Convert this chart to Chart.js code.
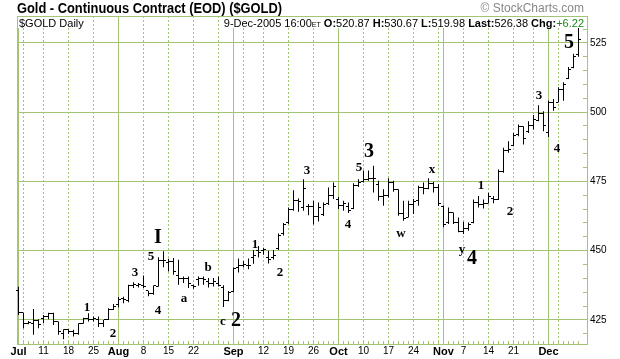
<!DOCTYPE html>
<html>
<head>
<meta charset="utf-8">
<title>Gold - Continuous Contract (EOD) ($GOLD)</title>
<script src="https://cdn.jsdelivr.net/npm/chart.js@4.4.1/dist/chart.umd.min.js"></script>
<style>
  html, body { margin: 0; padding: 0; background: #fff; }
  #box { width: 620px; height: 359px; }
</style>
</head>
<body>
<div id="box"><canvas id="goldChart" width="620" height="359"></canvas></div>
<script>
// $GOLD daily bars, 1-Jul-2005 .. 9-Dec-2005, one value per trading day
const opens = [
  435.5, 427.6, 423.8, 423.8, 424.8, 425.6, 426.2, 427.4, 424.4, 420.2,
  421.4, 420.8, 420.2, 423.8, 425.6, 425.0, 425.0, 423.8, 425.2, 428.6,
  430.4, 432.6, 432.0, 437.3, 437.4, 437.5, 435.5, 434.7, 437.0, 446.5,
  445.8, 446.1, 441.0, 440.0, 440.1, 437.4, 439.5, 440.1, 438.9, 438.3,
  438.3, 436.8, 432.0, 435.4, 443.9, 444.5, 444.5, 447.6, 450.0, 450.0,
  447.5, 447.5, 450.6, 456.1, 460.0, 465.0, 468.0, 465.5, 465.8, 466.0,
  462.4, 463.0, 467.0, 470.0, 468.6, 466.4, 466.0, 465.2, 473.6, 475.0,
  475.6, 476.2, 474.0, 469.4, 470.0, 474.6, 472.0, 463.4, 462.0, 466.6,
  468.0, 472.8, 472.6, 474.4, 472.8, 466.1, 460.0, 463.8, 460.2, 457.0,
  458.0, 460.0, 467.5, 466.5, 467.0, 469.0, 468.3, 478.5, 486.0, 488.0,
  492.0, 494.8, 493.0, 495.0, 497.0, 499.5, 492.5, 503.5, 503.5, 508.0,
  512.0, 516.0, 520.87
];
const highs = [
  437.0, 427.6, 424.6, 428.9, 425.2, 426.8, 427.6, 427.6, 424.4, 421.6,
  421.6, 421.4, 423.8, 425.8, 427.4, 426.2, 426.2, 425.0, 429.2, 430.7,
  433.3, 433.4, 437.7, 438.6, 438.3, 441.0, 435.5, 437.4, 447.6, 449.8,
  447.1, 447.3, 446.7, 440.7, 440.7, 437.7, 440.7, 440.7, 440.1, 440.1,
  440.7, 437.5, 435.4, 443.9, 447.2, 446.3, 447.2, 450.2, 451.7, 451.0,
  450.0, 450.2, 456.2, 460.0, 465.6, 471.8, 468.8, 475.8, 466.8, 468.0,
  467.4, 467.4, 472.8, 474.6, 469.4, 468.0, 467.4, 474.3, 475.8, 478.9,
  478.9, 480.6, 475.2, 472.2, 476.1, 475.2, 472.2, 468.0, 468.0, 468.6,
  473.4, 474.6, 476.1, 474.9, 474.0, 466.3, 465.6, 463.8, 462.0, 460.4,
  460.2, 468.5, 469.7, 468.5, 470.9, 469.7, 479.3, 487.1, 489.5, 492.5,
  495.5, 494.9, 496.7, 499.0, 502.5, 500.3, 504.2, 504.7, 509.0, 510.8,
  516.3, 521.1, 530.67
];
const lows = [
  426.8, 422.0, 423.4, 419.6, 422.0, 423.8, 425.2, 423.2, 419.6, 418.0,
  419.9, 419.0, 419.6, 423.6, 424.4, 424.4, 422.4, 422.4, 425.0, 428.6,
  429.5, 431.0, 431.4, 436.5, 436.7, 436.5, 433.5, 434.1, 437.0, 444.0,
  442.5, 441.3, 437.7, 438.3, 436.5, 436.2, 437.3, 437.7, 436.7, 437.1,
  437.1, 429.7, 431.7, 435.0, 442.1, 443.9, 443.3, 445.3, 447.5, 448.5,
  445.4, 446.8, 450.2, 455.5, 459.6, 464.4, 464.0, 464.4, 462.8, 459.4,
  460.5, 462.5, 466.5, 468.6, 465.0, 464.4, 463.6, 465.0, 473.0, 474.6,
  475.2, 471.0, 468.0, 466.2, 469.2, 471.3, 462.6, 460.8, 462.0, 463.2,
  466.2, 470.4, 472.2, 471.0, 466.1, 458.4, 459.6, 459.6, 456.6, 456.0,
  457.2, 459.9, 465.6, 465.2, 467.0, 467.1, 468.3, 478.1, 485.3, 487.7,
  491.3, 488.3, 492.5, 493.7, 496.7, 493.1, 491.0, 500.5, 503.5, 504.1,
  512.0, 515.8, 519.98
];
const closes = [
  427.6, 423.8, 424.0, 424.8, 423.2, 426.2, 427.4, 424.4, 420.8, 421.4,
  420.8, 420.2, 423.6, 425.6, 425.0, 425.6, 423.8, 425.0, 428.6, 429.8,
  432.2, 432.2, 437.3, 437.7, 437.7, 437.2, 434.7, 437.3, 446.5, 446.6,
  446.1, 442.5, 440.1, 440.0, 438.0, 437.0, 440.1, 439.5, 438.3, 438.9,
  437.5, 432.0, 435.0, 443.5, 444.5, 445.1, 444.5, 448.2, 449.4, 450.4,
  446.9, 448.2, 455.5, 459.4, 465.0, 468.0, 467.8, 472.5, 466.0, 462.4,
  465.5, 466.5, 470.0, 473.2, 466.4, 467.0, 464.5, 473.6, 474.6, 475.6,
  476.2, 476.0, 469.4, 469.8, 474.6, 472.0, 463.4, 461.5, 466.6, 467.8,
  472.8, 472.6, 474.4, 472.8, 467.0, 459.6, 463.8, 460.2, 457.0, 458.0,
  459.6, 467.5, 466.5, 467.0, 469.6, 468.3, 478.5, 486.0, 486.5, 491.5,
  494.8, 490.5, 495.0, 497.5, 499.5, 495.2, 503.5, 501.5, 508.0, 510.0,
  515.5, 520.16, 526.38
];

// x axis: trading-day index of each week / month start, and its label ('' = grid line only)
const tickIndex  = [0, 1, 5, 10, 15, 20, 25, 30, 35, 40, 43, 45, 49, 54, 59, 64, 69, 74, 79, 84, 85, 89, 94, 99, 103, 106, 108];
const tickLabels = ['Jul', '', '11', '18', '25', 'Aug', '8', '15', '22', '', 'Sep', '', '12', '19', '26', 'Oct', '10', '17', '24', '', 'Nov', '7', '14', '21', '', 'Dec', ''];
const priceTicks = [425, 450, 475, 500, 525];

// Elliott wave counts written on the chart
const waveIndex = [13.7, 18.9, 23.3, 26.5, 27.9, 27.9, 33.1, 37.9, 40.9, 43.5, 47.3, 52.3, 57.7, 65.9, 68.1, 70.1, 76.5, 82.7, 88.7, 90.7, 92.5, 98.3, 104.1, 107.7, 110.1];
const wavePrice = [429.6, 420.2, 441.9, 447.7, 454.5, 428.5, 432.8, 444.0, 424.5, 424.5, 452.0, 441.9, 479.0, 459.5, 480.1, 485.5, 456.3, 479.4, 450.2, 446.9, 473.6, 464.2, 506.1, 487.0, 524.9];
const waveText  = ['1', '2', '3', '5', 'I', '4', 'a', 'b', 'c', '2', '1', '2', '3', '4', '5', '3', 'w', 'x', 'y', '4', '1', '2', '3', '4', '5'];
const waveBig   = [0, 0, 0, 0, 1, 0, 0, 0, 0, 1, 0, 0, 0, 0, 0, 1, 0, 0, 0, 1, 0, 0, 0, 0, 1];

const GRID = '#a3c474';
const SANS = '"Liberation Sans", Arial, sans-serif';
const SERIF = '"Liberation Serif", "Times New Roman", serif';
const isMonth = s => /^[A-Z]/.test(s);

// frame + little minor ticks along the bottom and the right axis
const frameTicks = {
  id: 'frameTicks',
  beforeDatasetsDraw(chart) {
    const {ctx, chartArea: a, scales: {x, y}} = chart;
    ctx.save();
    ctx.fillStyle = GRID;
    ctx.fillRect(a.left, a.top, a.right - a.left, 1);
    ctx.fillRect(a.left, a.top, 1, a.bottom - a.top);
    for (let v = 420; v <= 530; v += 5) {
      const py = Math.round(y.getPixelForValue(v) - 0.5);
      ctx.fillRect(a.right - 4, py, 4, 1);
    }
    for (let i = 0; i < closes.length; i++) {
      const px = Math.round(x.getPixelForValue(i) - 0.5);
      ctx.fillRect(px, a.bottom - 3, 1, 3);
    }
    ctx.restore();
  }
};

// open tick on the left, close tick on the right of each high-low bar
const ohlcTicks = {
  id: 'ohlcTicks',
  afterDatasetsDraw(chart) {
    const {ctx, scales: {x, y}} = chart;
    ctx.save();
    ctx.fillStyle = '#000';
    for (let i = 0; i < closes.length; i++) {
      const px = Math.round(x.getPixelForValue(i) - 0.5);
      ctx.fillRect(px - 2, Math.round(y.getPixelForValue(opens[i]) - 0.5), 2, 1);
      ctx.fillRect(px + 1, Math.round(y.getPixelForValue(closes[i]) - 0.5), 2, 1);
    }
    ctx.restore();
  }
};

// wave labels
const waveLabels = {
  id: 'waveLabels',
  afterDatasetsDraw(chart) {
    const {ctx, scales: {x, y}} = chart;
    ctx.save();
    ctx.fillStyle = '#000';
    ctx.textAlign = 'center';
    ctx.textBaseline = 'middle';
    waveText.forEach((t, k) => {
      ctx.font = 'bold ' + (waveBig[k] ? 20 : 13) + 'px ' + SERIF;
      ctx.fillText(t, x.getPixelForValue(waveIndex[k]), y.getPixelForValue(wavePrice[k]));
    });
    ctx.restore();
  }
};

// title line and the quote line inside the top of the plot
const header = {
  id: 'header',
  afterDraw(chart) {
    const {ctx, chartArea: a} = chart;
    const n = closes.length - 1;
    ctx.save();
    ctx.textBaseline = 'alphabetic';
    ctx.textAlign = 'left';

    ctx.fillStyle = '#000';
    ctx.font = 'bold 14px ' + SANS;
    const title = 'Gold - Continuous Contract (EOD) ($GOLD)';
    const tw = ctx.measureText(title).width;
    ctx.save();
    ctx.translate(17, 13);
    ctx.scale(265 / tw, 1);
    ctx.fillText(title, 0, 0);
    ctx.restore();

    ctx.fillStyle = '#888';
    ctx.font = '12px ' + SANS;
    ctx.textAlign = 'right';
    ctx.fillText('\u00a9 StockCharts.com', 584, 12);
    ctx.textAlign = 'left';

    const left = '$GOLD Daily';
    ctx.font = '11px ' + SANS;
    const lw = ctx.measureText(left).width;
    ctx.fillStyle = '#fff';
    ctx.fillRect(a.left + 1, a.top + 1, lw + 4, 11);
    ctx.fillStyle = '#000';
    ctx.fillText(left, a.left + 2, a.top + 11);

    const chg = closes[n] - closes[n - 1];
    const parts = [
      ['9-Dec-2005 16:00', '11px ' + SANS, '#000'],
      ['ET', '7px ' + SANS, '#000'],
      [' O:', 'bold 11px ' + SANS, '#000'],
      [opens[n].toFixed(2), '11px ' + SANS, '#000'],
      [' H:', 'bold 11px ' + SANS, '#000'],
      [highs[n].toFixed(2), '11px ' + SANS, '#000'],
      [' L:', 'bold 11px ' + SANS, '#000'],
      [lows[n].toFixed(2), '11px ' + SANS, '#000'],
      [' Last:', 'bold 11px ' + SANS, '#000'],
      [closes[n].toFixed(2), '11px ' + SANS, '#000'],
      [' Chg:', 'bold 11px ' + SANS, '#000'],
      [(chg >= 0 ? '+' : '') + chg.toFixed(2), '11px ' + SANS, '#1a8a1a']
    ];
    let total = 0;
    parts.forEach(p => { ctx.font = p[1]; total += ctx.measureText(p[0]).width; });
    let px = 584 - total;
    ctx.fillStyle = '#fff';
    ctx.fillRect(px - 2, a.top + 1, total + 3, 11);
    parts.forEach(p => {
      ctx.font = p[1];
      ctx.fillStyle = p[2];
      ctx.fillText(p[0], px, a.top + 11);
      px += ctx.measureText(p[0]).width;
    });
    ctx.restore();
  }
};

new Chart(document.getElementById('goldChart'), {
  type: 'bar',
  data: {
    datasets: [{
      label: '$GOLD',
      data: closes.map((c, i) => ({x: i, y: [lows[i], highs[i]]})),
      backgroundColor: '#000',
      barThickness: 1,
      inflateAmount: 0,
      grouped: false
    }]
  },
  options: {
    responsive: false,
    animation: false,
    devicePixelRatio: 1,
    layout: {padding: {top: 16, left: 17, right: 0, bottom: 0}},
    plugins: {legend: {display: false}, tooltip: {enabled: false}},
    scales: {
      x: {
        type: 'linear',
        offset: false,
        min: -0.3,
        max: 113.7,
        afterBuildTicks: s => { s.ticks = tickIndex.map((v, k) => ({value: v, major: isMonth(tickLabels[k])})); },
        afterFit: s => { s.height = 15; s.paddingLeft = 0; s.paddingRight = 0; },
        ticks: {
          autoSkip: false,
          maxRotation: 0,
          padding: 1,
          color: '#000',
          callback: (v, k) => tickLabels[k],
          font: c => isMonth(tickLabels[c.index] || '')
            ? {family: SANS, size: 11, weight: 'bold'}
            : {family: SANS, size: 10}
        },
        grid: {color: GRID, drawTicks: false, offset: false},
        border: {color: GRID, dash: c => (c.tick && !c.tick.major) ? [2, 2] : []}
      },
      y: {
        position: 'right',
        min: 416.3,
        max: 534.7,
        afterBuildTicks: s => { s.ticks = priceTicks.map(v => ({value: v})); },
        afterFit: s => { s.width = 33; s.paddingTop = 0; s.paddingBottom = 0; },
        ticks: {padding: 3, color: '#000', font: {family: SANS, size: 10}},
        grid: {color: GRID, drawTicks: false},
        border: {color: GRID}
      }
    }
  },
  plugins: [frameTicks, ohlcTicks, waveLabels, header]
});
</script>
</body>
</html>
